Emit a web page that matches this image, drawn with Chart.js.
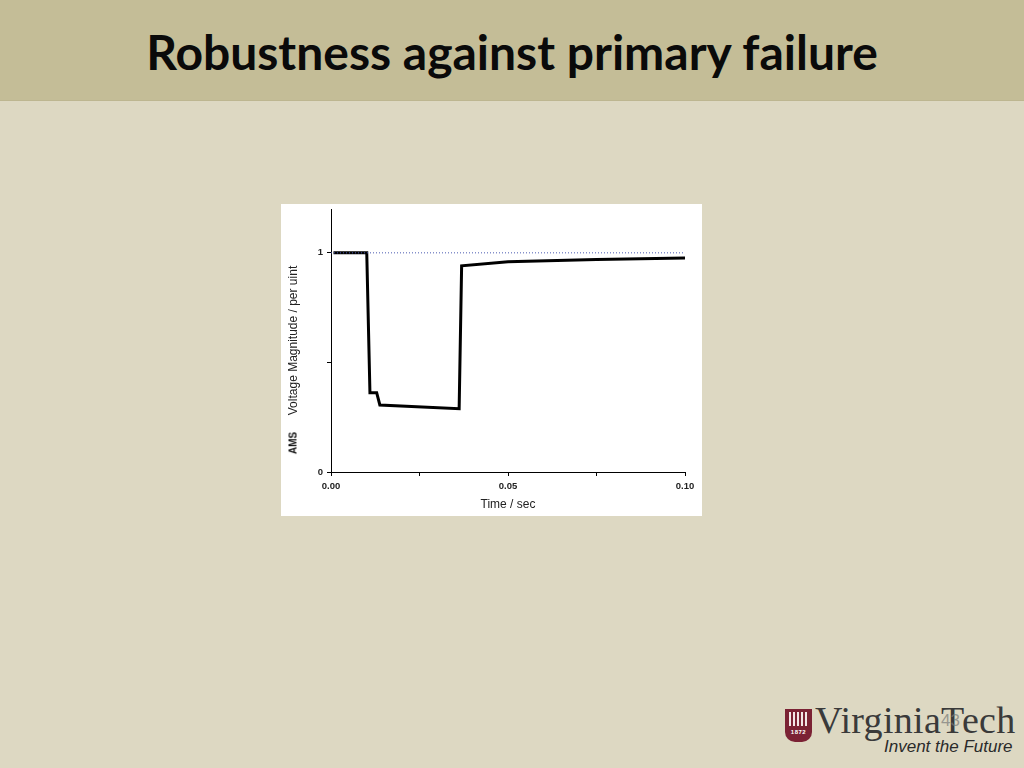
<!DOCTYPE html>
<html>
<head>
<meta charset="utf-8">
<script src="https://cdn.jsdelivr.net/npm/chart.js@4/dist/chart.umd.min.js"></script>
<style>
  html, body { margin:0; padding:0; }
  body { width:1024px; height:768px; background:#ddd8c2; position:relative; overflow:hidden; font-family:"Liberation Sans", Arial, sans-serif; }
  #header { position:absolute; left:0; top:0; width:1024px; height:100px; background:#c4bd97; border-bottom:1px solid #bdb690; }
  #title { position:absolute; left:0; top:0; width:1024px; height:100px; line-height:104px; text-align:center; font-family:Lato, "Open Sans", sans-serif; font-weight:bold; font-size:48px; color:#0a0a0a; }
  #box { position:absolute; left:281px; top:204px; width:421px; height:312px; background:#ffffff; }
  #ams { position:absolute; left:293px; top:443px; transform:translate(-50%,-50%) rotate(-90deg); font-family:"Liberation Sans", Arial, sans-serif; font-weight:bold; font-size:10px; color:#111; white-space:nowrap; }
  #shield { position:absolute; left:785px; top:709px; width:27px; height:33px; background:#7b2234; border-radius:0 0 10px 10px; }
  #shield .cols { position:absolute; left:4px; top:3px; width:19px; height:14px; background:repeating-linear-gradient(90deg,#f2e6e6 0 2px,#7b2234 2px 4px); }
  #shield .yr { position:absolute; left:0; top:20px; width:27px; text-align:center; font-size:6px; font-weight:bold; color:#fff; letter-spacing:0.5px; }
  #vt { position:absolute; left:815px; top:705px; line-height:30px; font-family:"Liberation Serif", "DejaVu Serif", serif; font-size:38px; color:#3a3a3a; letter-spacing:0.3px; white-space:nowrap; }
  #inv { position:absolute; left:884px; top:738px; line-height:18px; font-family:"Liberation Sans", Arial, sans-serif; font-style:italic; font-size:17px; color:#2a2a2a; white-space:nowrap; }
  #pg { position:absolute; left:941px; top:712px; line-height:18px; font-family:"Liberation Sans", Arial, sans-serif; font-size:17px; color:rgba(120,120,120,0.7); }
</style>
</head>
<body>
<div id="header"></div>
<div id="title">Robustness against primary failure</div>
<div id="box"></div>
<canvas id="c" width="421" height="312" style="position:absolute;left:281px;top:204px;"></canvas>
<div id="ams">AMS</div>
<div id="shield"><div class="cols"></div><div class="yr">1872</div></div>
<div id="vt">VirginiaTech</div>
<div id="inv">Invent the Future</div>
<div id="pg">43</div>
<script>
// Data
const timeSec   = [0.0007, 0.0101, 0.0110, 0.0129, 0.0138, 0.0362, 0.0369, 0.0500, 0.0750, 0.1000];
const voltagePu = [1.000,  1.000,  0.362,  0.362,  0.306,  0.289,  0.941,  0.959,  0.970,  0.976];
const refTime   = [0, 0.1];
const refValue  = [1, 1];
const xTicks    = [0, 0.025, 0.05, 0.075, 0.1];
const xLabelled = [0, 0.05, 0.1];
const yTicks    = [0, 0.5, 1];
const yLabelled = [0, 1];

const mainPts = timeSec.map((t, i) => ({ x: t, y: voltagePu[i] }));
const refPts  = refTime.map((t, i) => ({ x: t, y: refValue[i] }));
const near = (a, b) => Math.abs(a - b) < 1e-9;

new Chart(document.getElementById('c'), {
  type: 'line',
  data: {
    datasets: [
      { data: refPts, borderColor: '#4a5ab0', borderWidth: 1, borderDash: [1, 2], pointRadius: 0, tension: 0, fill: false },
      { data: mainPts, borderColor: '#000000', borderWidth: 3, pointRadius: 0, tension: 0, fill: false, borderJoinStyle: 'miter' }
    ]
  },
  options: {
    responsive: false,
    devicePixelRatio: 1,
    animation: false,
    layout: { padding: { top: 5, right: 17, left: 0, bottom: 0 } },
    plugins: { legend: { display: false }, tooltip: { enabled: false } },
    scales: {
      x: {
        type: 'linear', min: 0, max: 0.1,
        afterBuildTicks: s => { s.ticks = xTicks.map(v => ({ value: v })); },
        afterFit: s => { s.height = 44; s.paddingLeft = 0; s.paddingRight = 0; },
        grid: { display: true, drawOnChartArea: false, drawTicks: true, tickLength: 4, color: '#000' },
        border: { display: true, color: '#000', width: 1 },
        ticks: {
          autoSkip: false, maxRotation: 0, padding: 5, color: '#222',
          font: { family: 'Liberation Sans', size: 9.5, weight: 'bold' },
          callback: v => xLabelled.some(l => near(l, v)) ? v.toFixed(2) : ''
        },
        title: { display: true, text: 'Time / sec', color: '#222', font: { family: 'Liberation Sans', size: 12 }, padding: { top: 0, bottom: 4 } }
      },
      y: {
        type: 'linear', min: 0, max: 1.2,
        afterBuildTicks: s => { s.ticks = yTicks.map(v => ({ value: v })); },
        afterFit: s => { s.width = 50; s.paddingTop = 0; s.paddingBottom = 0; },
        grid: { display: true, drawOnChartArea: false, drawTicks: true, tickLength: 4, color: '#000' },
        border: { display: true, color: '#000', width: 1 },
        ticks: {
          autoSkip: false, padding: 4, color: '#222',
          font: { family: 'Liberation Sans', size: 9.5, weight: 'bold' },
          callback: v => yLabelled.some(l => near(l, v)) ? String(v) : ''
        },
        title: { display: true, text: 'Voltage Magnitude / per uint', color: '#222', font: { family: 'Liberation Sans', size: 12 }, padding: { top: 5, bottom: 0 } }
      }
    }
  }
});
</script>
</body>
</html>
